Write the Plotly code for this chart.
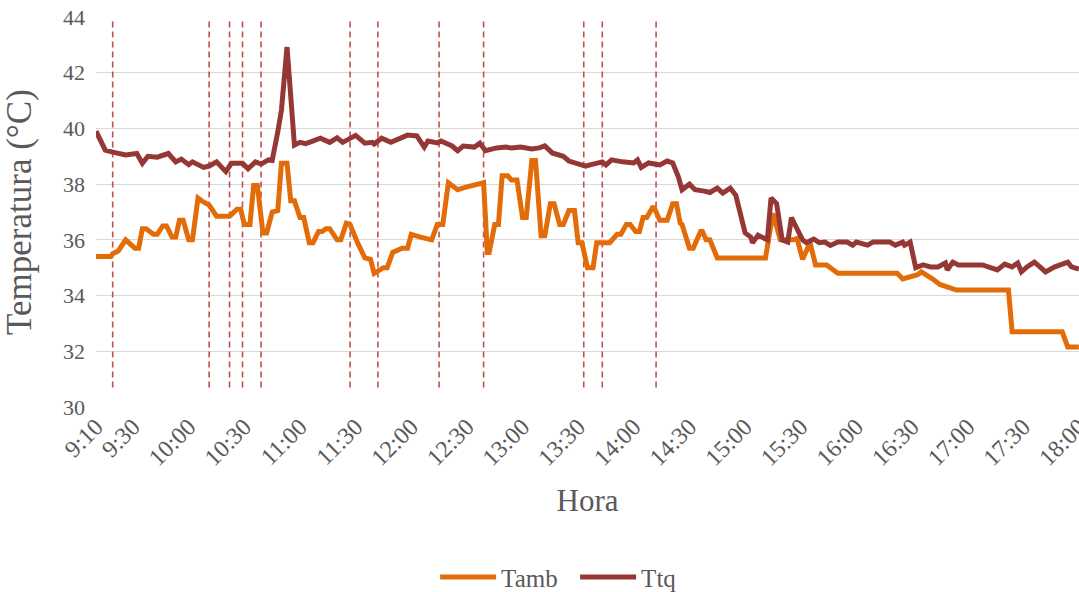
import plotly.graph_objects as go

# Ambient temperature (Tamb) readings: clock time and value in °C
tamb_time = [
    "9:10", "9:18", "9:19", "9:22", "9:26", "9:31", "9:33", "9:35", "9:37", "9:41",
    "9:43", "9:46", "9:48", "9:51", "9:53", "9:55", "9:57", "10:00", "10:02", "10:05",
    "10:07", "10:10", "10:11", "10:15", "10:22", "10:26", "10:28", "10:30", "10:33", "10:35",
    "10:37", "10:40", "10:42", "10:45", "10:48", "10:50", "10:53", "10:55", "10:57", "11:00",
    "11:02", "11:05", "11:07", "11:10", "11:12", "11:14", "11:16", "11:20", "11:22", "11:25",
    "11:27", "11:31", "11:35", "11:38", "11:40", "11:45", "11:47", "11:50", "11:55", "11:58",
    "12:00", "12:05", "12:11", "12:14", "12:17", "12:20", "12:25", "12:30", "12:37", "12:39",
    "12:41", "12:42", "12:45", "12:47", "12:49", "12:52", "12:54", "12:57", "13:00", "13:02",
    "13:05", "13:07", "13:10", "13:12", "13:15", "13:17", "13:20", "13:22", "13:25", "13:28",
    "13:30", "13:32", "13:35", "13:38", "13:40", "13:47", "13:51", "13:53", "13:56", "13:58",
    "14:01", "14:03", "14:05", "14:07", "14:10", "14:11", "14:14", "14:18", "14:21", "14:23",
    "14:25", "14:26", "14:30", "14:32", "14:36", "14:37", "14:39", "14:41", "14:45", "15:11",
    "15:15", "15:19", "15:26", "15:28", "15:31", "15:35", "15:38", "15:44", "15:50", "16:22",
    "16:25", "16:29", "16:33", "16:35", "16:38", "16:41", "16:45", "16:50", "16:54", "17:22",
    "17:24", "17:51", "17:54", "18:00",
]
tamb_val = [
    35.4, 35.4, 35.5, 35.6, 36.0, 35.7, 35.7, 36.4, 36.4, 36.2,
    36.2, 36.5, 36.5, 36.1, 36.1, 36.7, 36.7, 36.0, 36.0, 37.5,
    37.4, 37.25, 37.25, 36.85, 36.85, 37.1, 37.1, 36.55, 36.55, 37.95,
    37.95, 36.25, 36.25, 37.0, 37.05, 38.75, 38.75, 37.4, 37.4, 36.8,
    36.8, 35.9, 35.9, 36.3, 36.3, 36.4, 36.4, 36.0, 36.0, 36.6,
    36.55, 35.9, 35.35, 35.3, 34.8, 35.0, 35.0, 35.55, 35.7, 35.7,
    36.2, 36.1, 36.0, 36.55, 36.55, 38.05, 37.8, 37.9, 38.05, 38.05,
    35.55, 35.55, 36.55, 36.55, 38.3, 38.3, 38.15, 38.15, 36.8, 36.8,
    38.85, 38.85, 36.15, 36.15, 37.3, 37.3, 36.55, 36.55, 37.05, 37.05,
    35.9, 35.9, 35.0, 35.0, 35.9, 35.9, 36.2, 36.2, 36.55, 36.55,
    36.3, 36.3, 36.8, 36.8, 37.15, 37.15, 36.7, 36.7, 37.3, 37.3,
    36.6, 36.55, 35.7, 35.7, 36.3, 36.3, 36.0, 36.0, 35.35, 35.35,
    36.95, 36.0, 36.0, 36.05, 35.3, 35.9, 35.1, 35.1, 34.8, 34.8,
    34.6, 34.67, 34.75, 34.85, 34.75, 34.6, 34.4, 34.27, 34.2, 34.2,
    32.7, 32.7, 32.15, 32.15,
]

# Tank temperature (Ttq) readings
ttq_time = [
    "9:10", "9:15", "9:19", "9:26", "9:32", "9:35", "9:38", "9:43", "9:49", "9:53",
    "9:56", "10:00", "10:02", "10:08", "10:11", "10:15", "10:20", "10:23", "10:29", "10:32",
    "10:36", "10:39", "10:43", "10:45", "10:48", "10:50", "10:53", "10:57", "11:00", "11:03",
    "11:05", "11:11", "11:16", "11:20", "11:23", "11:30", "11:35", "11:39", "11:40", "11:44",
    "11:49", "11:54", "11:58", "12:03", "12:07", "12:09", "12:14", "12:16", "12:22", "12:25",
    "12:28", "12:34", "12:37", "12:40", "12:46", "12:51", "12:54", "12:59", "13:05", "13:09",
    "13:12", "13:16", "13:22", "13:25", "13:29", "13:34", "13:37", "13:43", "13:45", "13:48",
    "13:54", "14:00", "14:02", "14:04", "14:08", "14:14", "14:18", "14:21", "14:24", "14:26",
    "14:30", "14:33", "14:38", "14:41", "14:45", "14:48", "14:52", "14:55", "15:00", "15:03",
    "15:04", "15:07", "15:11", "15:12", "15:14", "15:17", "15:20", "15:23", "15:25", "15:28",
    "15:31", "15:33", "15:37", "15:40", "15:43", "15:46", "15:50", "15:55", "15:58", "16:00",
    "16:06", "16:09", "16:18", "16:21", "16:25", "16:26", "16:29", "16:32", "16:36", "16:40",
    "16:44", "16:48", "16:49", "16:52", "16:55", "17:08", "17:12", "17:16", "17:20", "17:24",
    "17:27", "17:29", "17:32", "17:36", "17:39", "17:42", "17:47", "17:54", "17:56", "18:00",
]
ttq_val = [
    39.9, 39.22, 39.15, 39.05, 39.1, 38.75, 39.0, 38.97, 39.1, 38.8,
    38.9, 38.7, 38.8, 38.6, 38.65, 38.8, 38.45, 38.75, 38.75, 38.55,
    38.8, 38.72, 38.87, 38.85, 39.87, 40.66, 42.92, 39.4, 39.5, 39.45,
    39.5, 39.65, 39.5, 39.66, 39.5, 39.75, 39.47, 39.5, 39.44, 39.65,
    39.5, 39.62, 39.76, 39.73, 39.33, 39.55, 39.48, 39.55, 39.37, 39.2,
    39.37, 39.33, 39.47, 39.2, 39.3, 39.33, 39.3, 39.33, 39.26, 39.3,
    39.37, 39.12, 39.0, 38.83, 38.75, 38.65, 38.7, 38.8, 38.69, 38.87,
    38.8, 38.76, 38.87, 38.6, 38.76, 38.69, 38.83, 38.76, 38.26, 37.8,
    38.0, 37.8, 37.75, 37.7, 37.86, 37.68, 37.86, 37.6, 36.25, 36.1,
    35.9, 36.17, 36.03, 36.0, 37.5, 37.3, 36.0, 35.92, 36.8, 36.35,
    36.0, 35.9, 36.03, 35.9, 35.92, 35.8, 35.92, 35.92, 35.81, 35.92,
    35.81, 35.92, 35.92, 35.81, 35.92, 35.81, 35.92, 35.0, 35.1, 35.03,
    35.03, 35.17, 34.92, 35.2, 35.1, 35.1, 34.99, 34.92, 35.13, 35.03,
    35.17, 34.85, 35.03, 35.2, 35.03, 34.85, 35.03, 35.2, 35.03, 34.95,
]

# Event markers (vertical dashed lines) and their vertical extent in °C
event_time = ["9:19", "10:11", "10:22", "10:29", "10:39", "11:27",
              "11:42", "12:15", "12:39", "13:33", "13:43", "14:12"]
event_span = [30.7, 43.9]

# Category labels on the time axis
tick_labels = ["9:10", "9:30", "10:00", "10:30", "11:00", "11:30", "12:00",
               "12:30", "13:00", "13:30", "14:00", "14:30", "15:00", "15:30",
               "16:00", "16:30", "17:00", "17:30", "18:00"]


def to_min(s):
    h, m = s.split(":")
    return int(h) * 60 + int(m)


FONT = "Liberation Serif, Times New Roman, serif"
GREY = "#595959"

fig = go.Figure()

# dashed event lines, one trace with gaps between segments
ev_x, ev_y = [], []
for t in event_time:
    ev_x += [to_min(t), to_min(t), None]
    ev_y += [event_span[0], event_span[1], None]
fig.add_trace(go.Scatter(
    x=ev_x, y=ev_y, mode="lines", showlegend=False, hoverinfo="skip",
    line=dict(color="#C0504D", width=1.6, dash="6px,4px"),
))

fig.add_trace(go.Scatter(
    x=[to_min(t) for t in tamb_time], y=tamb_val, mode="lines", name="Tamb",
    line=dict(color="#E36C09", width=5),
))
fig.add_trace(go.Scatter(
    x=[to_min(t) for t in ttq_time], y=ttq_val, mode="lines", name="Ttq",
    line=dict(color="#953735", width=5),
))

fig.update_layout(
    width=1079, height=592,
    margin=dict(l=96, r=0, t=17, b=185),
    paper_bgcolor="white", plot_bgcolor="white",
    font=dict(family=FONT, color=GREY, size=22),
    legend=dict(
        orientation="h", xref="container", yref="container",
        x=0.533, xanchor="center", y=0.025, yanchor="middle",
        font=dict(size=25, color=GREY), itemwidth=56,
        entrywidth=69, traceorder="normal",
    ),
    showlegend=True,
)

fig.update_xaxes(
    range=[to_min("9:10"), to_min("18:00") + 0.05],
    tickmode="array",
    tickvals=[to_min(t) for t in tick_labels],
    ticktext=tick_labels,
    tickangle=-45,
    ticklabeloverflow="allow",
    tickfont=dict(size=24, color=GREY, family=FONT),
    showgrid=False, zeroline=False, showline=False, ticks="",
    title=dict(text="Hora", font=dict(size=31, color=GREY, family=FONT), standoff=19),
    automargin=False,
)
fig.update_yaxes(
    range=[30, 44],
    tickmode="array", tickvals=list(range(30, 45, 2)),
    tickfont=dict(size=22, color=GREY, family=FONT),
    showgrid=True, gridcolor="#D9D9D9", gridwidth=1.2,
    zeroline=False, showline=False, ticks="", ticklabelstandoff=10,
    title=dict(text="Temperatura (°C)", font=dict(size=35, color=GREY, family=FONT), standoff=20),
    automargin=False,
)

fig.write_html("out.html")
